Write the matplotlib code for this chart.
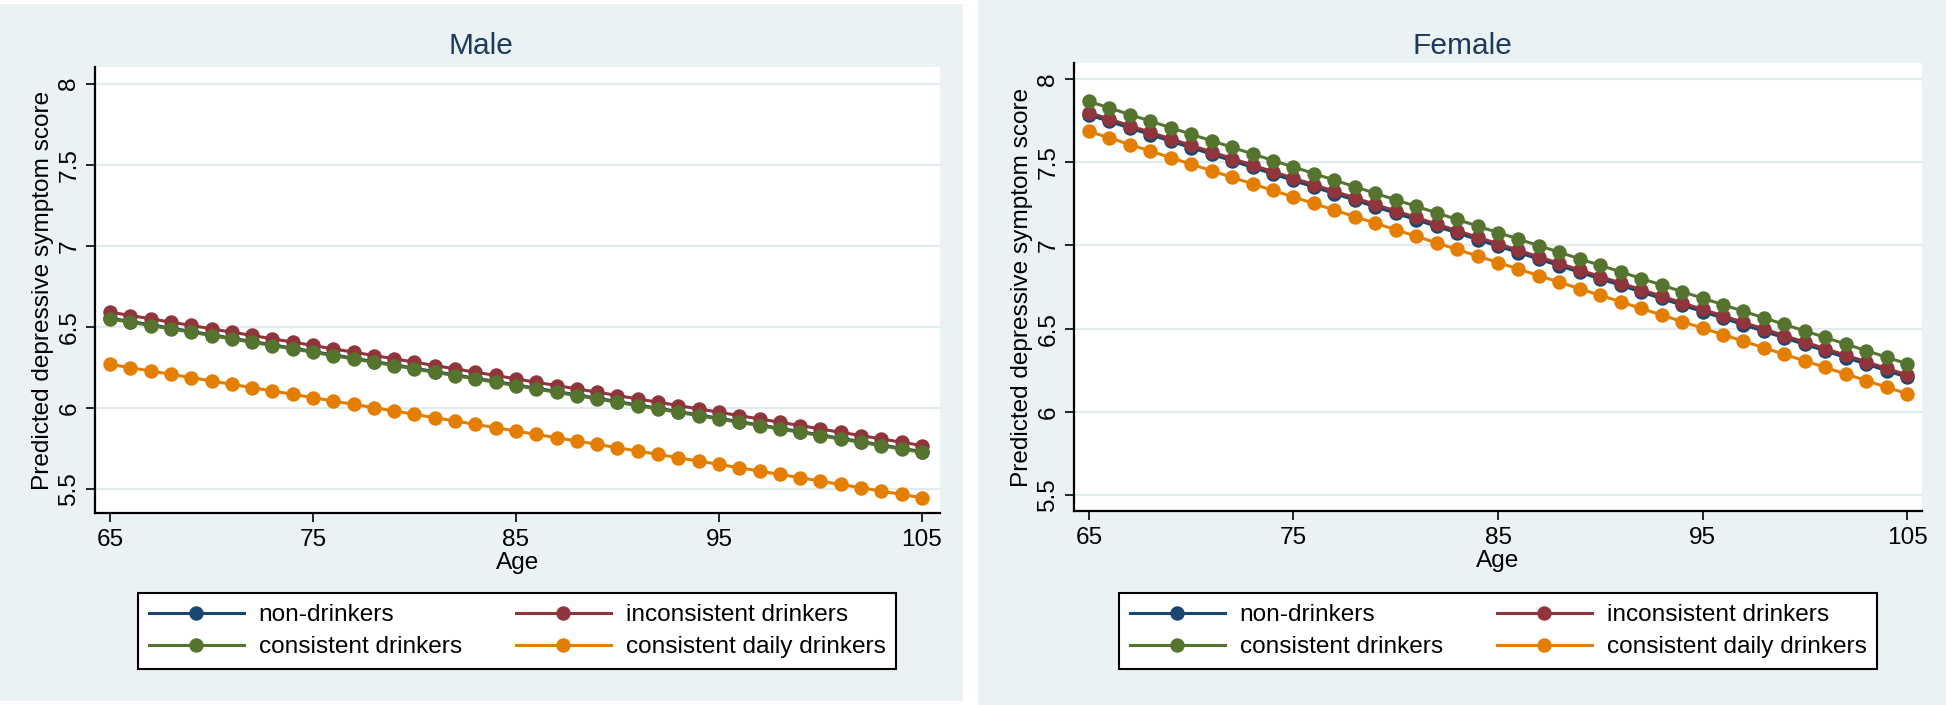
import matplotlib
matplotlib.use("Agg")
import matplotlib.pyplot as plt
from matplotlib.patches import Rectangle

plt.rcParams['font.family'] = ['Liberation Sans', 'DejaVu Sans']

ages = list(range(65, 106))

male_non = [6.553, 6.532, 6.512, 6.491, 6.471, 6.450, 6.429, 6.409, 6.388, 6.368, 6.347,
            6.326, 6.306, 6.285, 6.265, 6.244, 6.223, 6.203, 6.182, 6.162, 6.141, 6.120,
            6.100, 6.079, 6.059, 6.038, 6.017, 5.997, 5.976, 5.956, 5.935, 5.914, 5.894,
            5.873, 5.853, 5.832, 5.811, 5.791, 5.770, 5.750, 5.729]
male_incons = [6.590, 6.569, 6.549, 6.528, 6.508, 6.487, 6.466, 6.446, 6.425, 6.405, 6.384,
               6.363, 6.343, 6.322, 6.302, 6.281, 6.260, 6.240, 6.219, 6.199, 6.178, 6.157,
               6.137, 6.116, 6.096, 6.075, 6.054, 6.034, 6.013, 5.993, 5.972, 5.951, 5.931,
               5.910, 5.890, 5.869, 5.848, 5.828, 5.807, 5.787, 5.766]
male_cons = [6.548, 6.527, 6.507, 6.486, 6.466, 6.445, 6.424, 6.404, 6.383, 6.363, 6.342,
             6.321, 6.301, 6.280, 6.260, 6.239, 6.218, 6.198, 6.177, 6.157, 6.136, 6.115,
             6.095, 6.074, 6.054, 6.033, 6.012, 5.992, 5.971, 5.951, 5.930, 5.909, 5.889,
             5.868, 5.848, 5.827, 5.806, 5.786, 5.765, 5.745, 5.724]
male_daily = [6.268, 6.247, 6.227, 6.206, 6.186, 6.165, 6.144, 6.124, 6.103, 6.083, 6.062,
              6.041, 6.021, 6.000, 5.980, 5.959, 5.938, 5.918, 5.897, 5.877, 5.856, 5.835,
              5.815, 5.794, 5.774, 5.753, 5.732, 5.712, 5.691, 5.671, 5.650, 5.629, 5.609,
              5.588, 5.568, 5.547, 5.526, 5.506, 5.485, 5.465, 5.444]

female_non = [7.784, 7.745, 7.705, 7.666, 7.626, 7.587, 7.548, 7.508, 7.469, 7.429, 7.390,
              7.351, 7.311, 7.272, 7.232, 7.193, 7.154, 7.114, 7.075, 7.035, 6.996, 6.957,
              6.917, 6.878, 6.838, 6.799, 6.760, 6.720, 6.681, 6.641, 6.602, 6.563, 6.523,
              6.484, 6.444, 6.405, 6.366, 6.326, 6.287, 6.247, 6.208]
female_incons = [7.798, 7.759, 7.719, 7.680, 7.640, 7.601, 7.562, 7.522, 7.483, 7.443, 7.404,
                 7.365, 7.325, 7.286, 7.246, 7.207, 7.168, 7.128, 7.089, 7.049, 7.010, 6.971,
                 6.931, 6.892, 6.852, 6.813, 6.774, 6.734, 6.695, 6.655, 6.616, 6.577, 6.537,
                 6.498, 6.458, 6.419, 6.380, 6.340, 6.301, 6.261, 6.222]
female_cons = [7.865, 7.826, 7.786, 7.747, 7.707, 7.668, 7.629, 7.589, 7.550, 7.510, 7.471,
               7.432, 7.392, 7.353, 7.313, 7.274, 7.235, 7.195, 7.156, 7.116, 7.077, 7.038,
               6.998, 6.959, 6.919, 6.880, 6.841, 6.801, 6.762, 6.722, 6.683, 6.644, 6.604,
               6.565, 6.525, 6.486, 6.447, 6.407, 6.368, 6.328, 6.289]
female_daily = [7.685, 7.646, 7.606, 7.567, 7.527, 7.488, 7.449, 7.409, 7.370, 7.330, 7.291,
                7.252, 7.212, 7.173, 7.133, 7.094, 7.055, 7.015, 6.976, 6.936, 6.897, 6.858,
                6.818, 6.779, 6.739, 6.700, 6.661, 6.621, 6.582, 6.542, 6.503, 6.464, 6.424,
                6.385, 6.345, 6.306, 6.267, 6.227, 6.188, 6.148, 6.109]

series_labels = ["non-drinkers", "inconsistent drinkers", "consistent drinkers",
                 "consistent daily drinkers"]
series_colors = ["#1A476F", "#90353B", "#55752F", "#E37E00"]
panel_titles = ["Male", "Female"]
x_ticks = [65, 75, 85, 95, 105]
y_ticks = [5.5, 6, 6.5, 7, 7.5, 8]
y_ticklabels = ["5.5", "6", "6.5", "7", "7.5", "8"]

BG = "#EAF2F3"
GRID = "#E2EBED"
TITLE_C = "#1C3A5E"
W, H = 1946, 705
FS = 17.6

fig = plt.figure(figsize=(W / 100, H / 100), dpi=100, facecolor="white")

# panel backgrounds
fig.patches.append(Rectangle((0, 4 / H), 963 / W, 697 / H, transform=fig.transFigure,
                             facecolor=BG, edgecolor="none", zorder=-5))
fig.patches.append(Rectangle((978 / W, 0), (W - 978) / W, 1, transform=fig.transFigure,
                             facecolor=BG, edgecolor="none", zorder=-5))

panels = [
    dict(rect=[95 / W, 192 / H, 845 / W, 446 / H], xlim=(64.26, 105.89), ylim=(5.35, 8.103),
         data=[male_non, male_incons, male_cons, male_daily], title_x=481,
         leg_cx=517, leg_top=593),
    dict(rect=[1074 / W, 194 / H, 848 / W, 448 / H], xlim=(64.27, 105.73), ylim=(5.404, 8.096),
         data=[female_non, female_incons, female_cons, female_daily], title_x=1462,
         leg_cx=1498, leg_top=593),
]

for p, title in zip(panels, panel_titles):
    ax = fig.add_axes(p["rect"])
    ax.set_zorder(2)
    ax.set_facecolor("white")
    handles = []
    for vals, lab, col in zip(p["data"], series_labels, series_colors):
        h, = ax.plot(ages, vals, color=col, lw=2.2, marker="o", ms=10.4,
                     markeredgewidth=0, label=lab, zorder=3)
        handles.append(h)
    ax.set_xlim(*p["xlim"])
    ax.set_ylim(*p["ylim"])
    ax.set_xticks(x_ticks)
    ax.set_yticks(y_ticks)
    ax.set_yticklabels(y_ticklabels, rotation=90, va="center")
    for y in y_ticks:
        ax.axhline(y, color=GRID, lw=1.6, zorder=1)
    for s in ["top", "right"]:
        ax.spines[s].set_visible(False)
    for s in ["left", "bottom"]:
        ax.spines[s].set_linewidth(1.6)
        ax.spines[s].set_color("black")
    ax.tick_params(axis="both", direction="out", length=6.5, width=1.2, labelsize=FS,
                   colors="black")
    ax.tick_params(axis="x", pad=5)
    ax.tick_params(axis="y", pad=4)
    ax.set_xlabel("Age", fontsize=FS, labelpad=1)
    ax.set_ylabel("Predicted depressive symptom score", fontsize=FS, labelpad=3)
    fig.text(p["title_x"] / W, 1 - 46 / H, title, ha="center", va="center",
             fontsize=21.5, color=TITLE_C)
    order = [0, 2, 1, 3]
    leg = fig.legend([handles[i] for i in order], [series_labels[i] for i in order],
                     loc="upper center",
                     bbox_to_anchor=(p["leg_cx"] / W, 1 - p["leg_top"] / H),
                     ncol=2, fontsize=FS, frameon=True, fancybox=False,
                     edgecolor="black", facecolor="white", framealpha=1,
                     handlelength=3.9, handletextpad=0.6, labelspacing=0.42,
                     columnspacing=2.2, borderpad=0.45, borderaxespad=0, numpoints=1)
    leg.get_frame().set_linewidth(1.5)
    leg.set_zorder(3)

fig.savefig("out.png", dpi=100, facecolor="white")
